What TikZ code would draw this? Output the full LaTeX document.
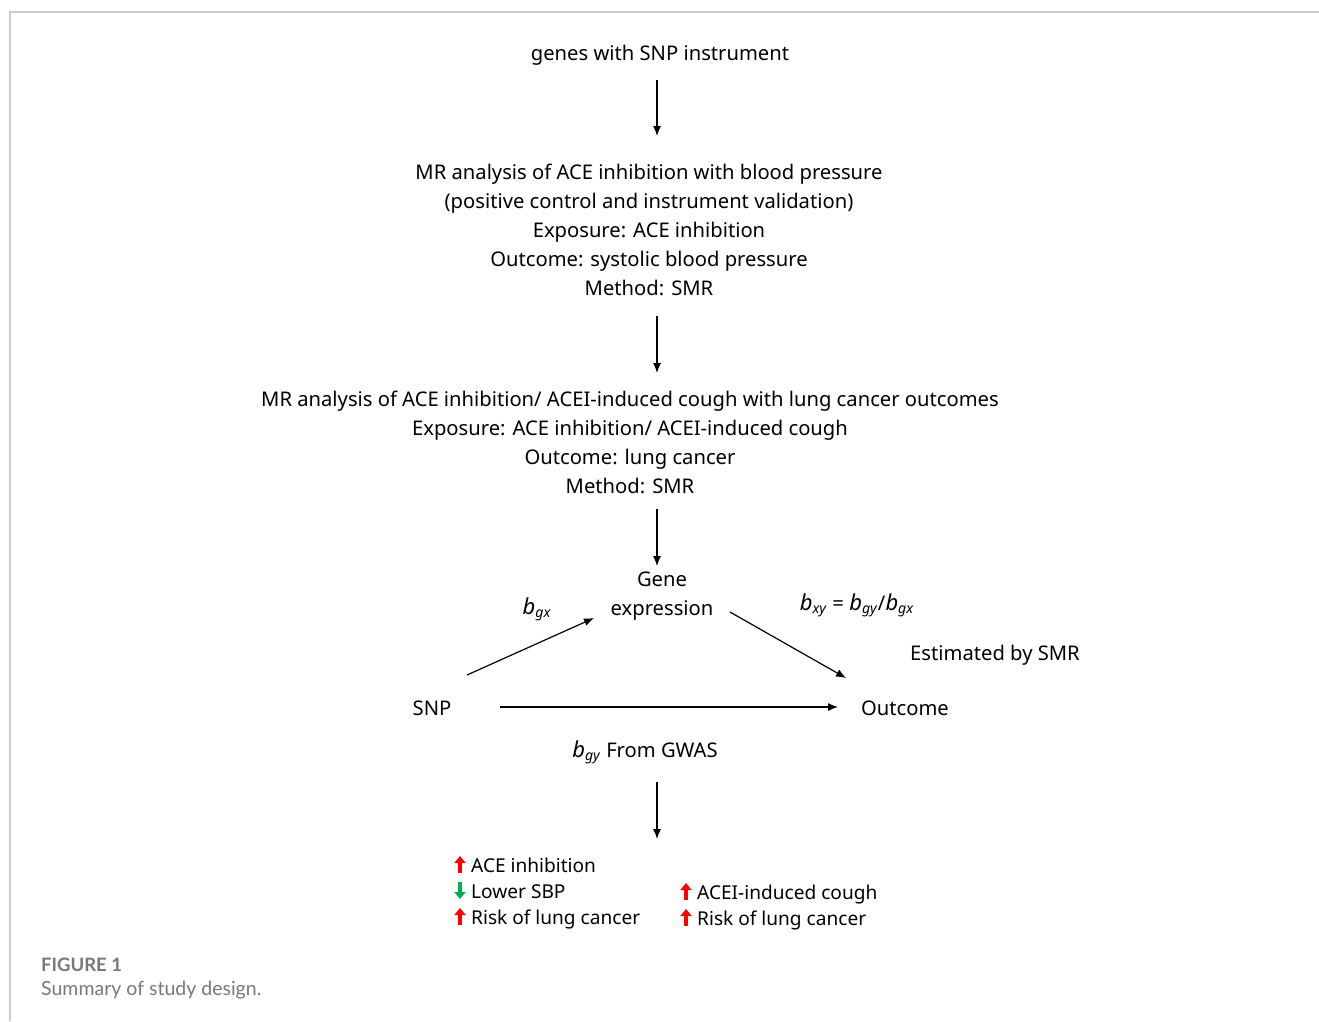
\documentclass[tikz,border=0pt]{standalone}
\usepackage{fontspec}
\setmainfont{Noto Sans}
\newfontfamily\capfont{Lato}
\usetikzlibrary{arrows.meta}
\definecolor{framegray}{RGB}{205,205,205}
\definecolor{capgray}{RGB}{120,120,120}
\definecolor{upred}{RGB}{255,0,0}
\definecolor{downgreen}{RGB}{0,176,80}
\newcommand{\coef}[2]{{\fontsize{22}{29}\selectfont\textit{#1}}\textsubscript{\textit{#2}}}

\begin{document}
\begin{tikzpicture}
    [x=1pt,y=-1pt,
     txt/.style={font=\fontsize{20.2}{29}\selectfont,align=center,inner sep=0pt},
     res/.style={font=\fontsize{19.1}{26}\selectfont,anchor=base west,inner sep=0pt},
     pre/.style={-{Latex[length=10pt,width=8pt]},line width=1.2pt},
     upmark/.style={upred,line width=3.5pt,-{Triangle[length=7pt,width=11pt]}},
     downmark/.style={downgreen,line width=3.5pt,-{Triangle[length=7pt,width=11pt]}}]
    \useasboundingbox (0,0) rectangle (1319,1021);
    \draw [framegray,line width=1.5pt] (10,1021) -- (10,12) -- (1319,12);
    % study flow
    \node [txt] (genes) at (660,55) {genes with SNP instrument};
    \node [txt] (bp) at (649,230) {MR analysis of ACE inhibition with blood pressure\\
      (positive control and instrument validation)\\Exposure: ACE inhibition\\
      Outcome: systolic blood pressure\\Method: SMR};
    \node [txt] (lung) at (630,442) {MR analysis of ACE inhibition/ ACEI-induced cough with lung cancer outcomes\\
      Exposure: ACE inhibition/ ACEI-induced cough\\Outcome: lung cancer\\Method: SMR};
    \coordinate (a1s) at (657,80);  \coordinate (a1e) at (657,136);
    \coordinate (a2s) at (657,316); \coordinate (a2e) at (657,373);
    \coordinate (a3s) at (657,509); \coordinate (a3e) at (657,566);
    \coordinate (a4s) at (657,782); \coordinate (a4e) at (657,839);
    \draw [pre] (a1s) -- (a1e);
    \draw [pre] (a2s) -- (a2e);
    \draw [pre] (a3s) -- (a3e);
    \draw [pre] (a4s) -- (a4e);
    % SMR triangle
    \node [txt] (gene) at (662,596) {Gene\\expression};
    \node [txt] (snp) at (432,708) {SNP};
    \node [txt] (outcome) at (905,708) {Outcome};
    \node [txt] (bgx) at (537,609) {\coef{b}{gx}};
    \node [txt] (bxy) at (857,605) {\coef{b}{xy} = \coef{b}{gy}/\coef{b}{gx}};
    \node [txt] (est) at (995,655) {Estimated by SMR};
    \node [txt] (bgy) at (645,752) {\coef{b}{gy} From GWAS};
    \coordinate (sg1) at (467,675); \coordinate (sg2) at (594,618);
    \coordinate (go1) at (730,612); \coordinate (go2) at (846,678);
    \coordinate (so1) at (500,707); \coordinate (so2) at (838,707);
    \draw [pre] (sg1) -- (sg2);
    \draw [pre] (go1) -- (go2);
    \draw [pre] (so1) -- (so2);
    % results
    \node [res] (l1) at (471,872) {ACE inhibition};
    \node [res] (l2) at (471,898) {Lower SBP};
    \node [res] (l3) at (471,924) {Risk of lung cancer};
    \node [res] (r1) at (697,899) {ACEI-induced cough};
    \node [res] (r2) at (697,925) {Risk of lung cancer};
    \draw [upmark] ([shift={(-11,1)}]l1.base west) -- ++(0,-17);
    \draw [downmark] ([shift={(-11,-16)}]l2.base west) -- ++(0,17);
    \draw [upmark] ([shift={(-11,1)}]l3.base west) -- ++(0,-17);
    \draw [upmark] ([shift={(-11,1)}]r1.base west) -- ++(0,-17);
    \draw [upmark] ([shift={(-11,1)}]r2.base west) -- ++(0,-17);
    % caption
    \node [anchor=west,inner sep=0pt,capgray,font=\capfont\bfseries\fontsize{18.5}{22}\selectfont] (fig) at (41,965) {FIGURE 1};
    \node [anchor=west,inner sep=0pt,capgray,font=\capfont\fontsize{19.5}{22}\selectfont] (cap) at (41,990) {Summary of study design.};
\end{tikzpicture}
\end{document}
